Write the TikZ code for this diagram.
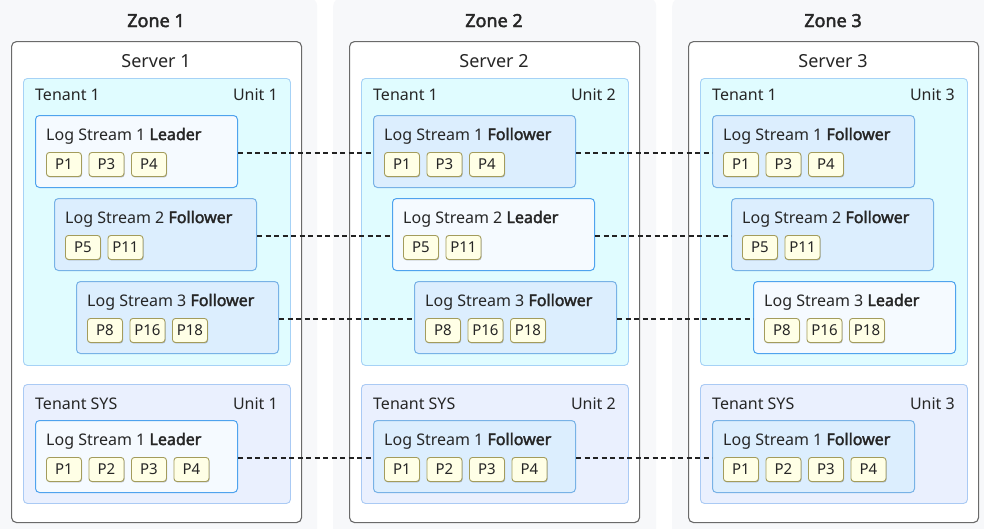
\documentclass[tikz,border=0pt]{standalone}
\usepackage{fontspec}
\setmainfont{Noto Sans}[AutoFakeBold=2.2]
\usetikzlibrary{shadows}
\definecolor{zonebg}{HTML}{F7F8FA}
\definecolor{serverline}{HTML}{6A6A6A}
\definecolor{tenantfill}{HTML}{E0FCFF}
\definecolor{tenantline}{HTML}{A6D2F6}
\definecolor{sysfill}{HTML}{EAF0FE}
\definecolor{sysline}{HTML}{AACAF4}
\definecolor{leaderfill}{HTML}{F5FAFF}
\definecolor{leaderline}{HTML}{4FA3EE}
\definecolor{followerfill}{HTML}{DCEEFE}
\definecolor{followerline}{HTML}{78B2E6}
\definecolor{partfill}{HTML}{FFFFE6}
\definecolor{partline}{HTML}{A39C5C}
\definecolor{txt}{HTML}{262626}
\definecolor{linkcol}{HTML}{222222}
\tikzset{
  zonebox/.style={fill=zonebg, draw=none, rounded corners=8pt, inner sep=0pt},
  serverbox/.style={draw=serverline, fill=white, line width=1.1pt, rounded corners=5pt, inner sep=0pt,
    minimum width=290pt, minimum height=481pt},
  tenantbox/.style={draw=tenantline, fill=tenantfill, line width=0.9pt, rounded corners=4pt, inner sep=0pt,
    minimum width=267pt, minimum height=287pt},
  sysbox/.style={draw=sysline, fill=sysfill, line width=0.9pt, rounded corners=4pt, inner sep=0pt,
    minimum width=267pt, minimum height=119pt},
  lsbox/.style={line width=1pt, rounded corners=4pt, inner sep=0pt, minimum width=202pt, minimum height=72pt},
  roleLeader/.style={draw=leaderline, fill=leaderfill},
  roleFollower/.style={draw=followerline, fill=followerfill},
  part/.style={draw=partline, fill=partfill, line width=0.9pt, rounded corners=3pt, inner sep=0pt,
    minimum width=35pt, minimum height=24pt, text=txt, font=\fontsize{15}{17}\selectfont,
    drop shadow={shadow xshift=0.6pt, shadow yshift=-1pt, opacity=0.25, fill=black}},
  zonetitle/.style={text=txt, inner sep=0pt, font=\fontsize{18}{20}\selectfont\bfseries},
  srvtitle/.style={text=txt, inner sep=0pt, font=\fontsize{18}{20}\selectfont},
  lbl/.style={text=txt, inner sep=0pt, font=\fontsize{16}{18}\selectfont},
  lstitle/.style={text=txt, inner sep=0pt, font=\fontsize{16}{18}\selectfont},
  link/.style={draw=linkcol, line width=1.4pt, dash pattern=on 5pt off 3.5pt},
}
% #1 name, #2 x, #3 y, #4 stream number, #5 role, #6 partitions
\newcommand\lsblock[6]{%
  \node[lsbox, role#5, anchor=north west] (#1) at (#2,#3) {};
  \node[lstitle, anchor=base west] (#1t) at ({#2+11},{#3+25}) {Log Stream #4 \textbf{#5}};
  \foreach \p [count=\i from 0] in {#6}
    \node[part, anchor=north west] (#1p\i) at ({#2+11+42.5*\i},{#3+37}) {\p};
}
% #1 zone number, #2 dx, #3..#5 roles LS1..LS3, #6 role SYS LS1
\newcommand\zonecol[6]{%
  \begin{scope}[xshift=#2pt]
    \node[serverbox, anchor=north west] (srv#1) at (11,41) {};
    \node[zonetitle, anchor=base] (zt#1) at (156,27) {Zone #1};
    \node[srvtitle, anchor=base] (st#1) at (156,67) {Server #1};
    \node[tenantbox, anchor=north west] (ten#1) at (23,78) {};
    \node[lbl, anchor=base west] (tl#1) at (35,100) {Tenant 1};
    \node[lbl, anchor=base east] (ul#1) at (278,100) {Unit #1};
    \lsblock{z#1a}{35}{115}{1}{#3}{P1,P3,P4}
    \lsblock{z#1b}{54}{198}{2}{#4}{P5,P11}
    \lsblock{z#1c}{76}{281}{3}{#5}{P8,P16,P18}
    \node[sysbox, anchor=north west] (sys#1) at (23,384) {};
    \node[lbl, anchor=base west] (sl#1) at (35,409) {Tenant SYS};
    \node[lbl, anchor=base east] (su#1) at (278,409) {Unit #1};
    \lsblock{z#1s}{35}{420}{1}{#6}{P1,P2,P3,P4}
  \end{scope}}
\begin{document}
\begin{tikzpicture}[x=1pt,y=-1pt]
  \useasboundingbox (0,0) rectangle (984,528);
  \clip (0,0) rectangle (984,528);
  \fill[white] (0,0) rectangle (984,528);
  \node[zonebox, anchor=north west, minimum width=327pt, minimum height=545pt] (zone1) at (-10,-2) {};
  \node[zonebox, anchor=north west, minimum width=323pt, minimum height=545pt] (zone2) at (333,-2) {};
  \node[zonebox, anchor=north west, minimum width=330pt, minimum height=545pt] (zone3) at (672,-2) {};
  \zonecol{1}{0}{Leader}{Follower}{Follower}{Leader}
  \zonecol{2}{338}{Follower}{Leader}{Follower}{Follower}
  \zonecol{3}{677}{Follower}{Follower}{Leader}{Follower}
  \foreach \r in {a,b,c,s} {
    \draw[link] ([yshift=-1.5pt]z1\r.east) -- ([yshift=-1.5pt]z2\r.west);
    \draw[link] ([yshift=-1.5pt]z2\r.east) -- ([yshift=-1.5pt]z3\r.west);
  }
\end{tikzpicture}
\end{document}
